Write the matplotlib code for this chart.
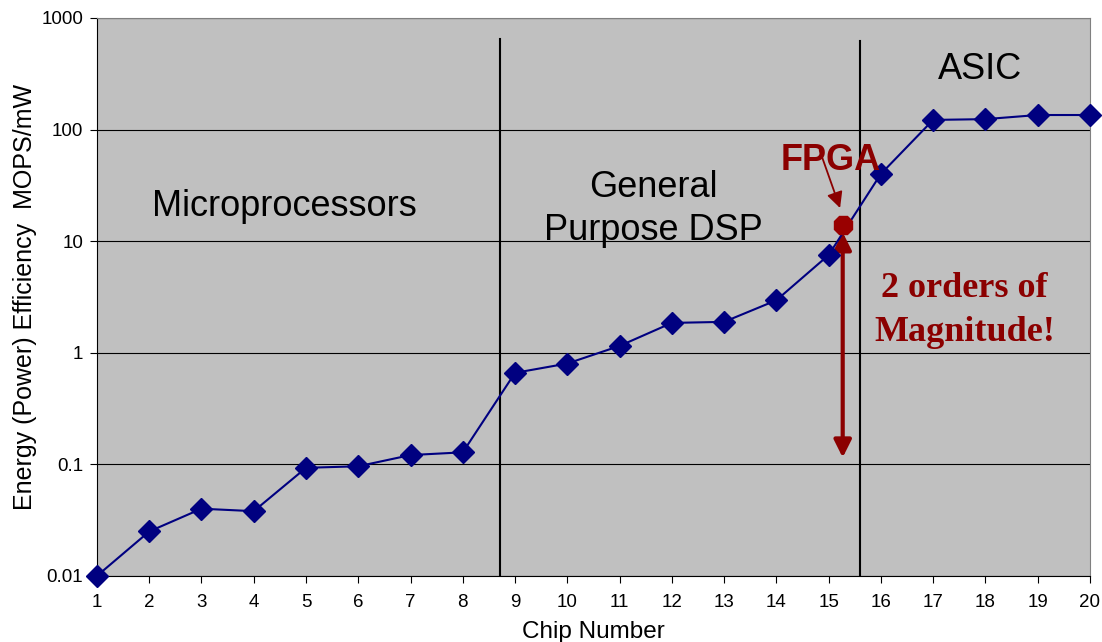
import matplotlib.pyplot as plt
import numpy as np

plt.rcParams['font.family'] = ['Liberation Sans', 'DejaVu Sans']

chips = np.arange(1, 21)
efficiency = [0.01, 0.025, 0.04, 0.038, 0.093, 0.096, 0.121, 0.128, 0.66, 0.8,
              1.15, 1.85, 1.89, 2.95, 7.5, 40, 122, 124, 135, 135]
fpga_chip = 15.27
fpga_eff = 14
boundaries = [8.71, 15.6]
y_ticks = [0.01, 0.1, 1, 10, 100, 1000]
y_tick_labels = ['0.01', '0.1', '1', '10', '100', '1000']

dark_red = '#8B0000'

fig = plt.figure(figsize=(11.02, 6.42), dpi=100)
ax = fig.add_axes([0.088, 0.103, 0.901, 0.869])
ax.set_facecolor('#c0c0c0')

ax.set_yscale('log')
ax.set_ylim(0.01, 1000)
ax.set_xlim(1, 20)
ax.set_yticks(y_ticks)
ax.set_yticklabels(y_tick_labels)
ax.yaxis.set_minor_locator(plt.NullLocator())
ax.set_xticks(chips)
ax.grid(axis='y', color='black', linewidth=0.8)
ax.set_axisbelow(True)

for s in ['top', 'right']:
    ax.spines[s].set_color('#808080')
ax.tick_params(labelsize=13.5, length=5)
ax.tick_params(axis='x', pad=8)
ax.tick_params(axis='y', pad=5)

# region separators
ax.plot([boundaries[0]] * 2, [0.01, 650], color='black', linewidth=1.5, zorder=2)
ax.plot([boundaries[1]] * 2, [0.01, 620], color='black', linewidth=1.5, zorder=2)

ax.plot(chips, efficiency, color='#000080', linewidth=1.5, marker='D',
        markersize=11, clip_on=False, zorder=4)

ax.plot([fpga_chip], [fpga_eff], marker='8', color='#990000', markersize=14,
        linestyle='none', zorder=5)

ax.text(4.58, 0.64 * 10 ** 1.5, 'Microprocessors', fontsize=26, ha='center', va='center')
ax.text(11.65, 19.3, 'General\nPurpose DSP', fontsize=26, ha='center',
        va='center', linespacing=1.28)
ax.text(17.9, 346, 'ASIC', fontsize=26, ha='center', va='center')

ax.text(15.05, 52.5, 'FPGA', fontsize=26, fontweight='bold', color=dark_red,
        ha='center', va='center', zorder=6)
ax.annotate('', xy=(15.22, 19.8), xytext=(14.83, 65),
            arrowprops=dict(arrowstyle='-|>', color=dark_red, lw=1.3,
                            mutation_scale=24, shrinkA=0, shrinkB=0), zorder=7)
ax.annotate('', xy=(fpga_chip, 0.115), xytext=(fpga_chip, 12.0),
            arrowprops=dict(arrowstyle='<|-|>', color=dark_red, lw=3,
                            mutation_scale=26, shrinkA=0, shrinkB=0))
ax.text(17.6, 2.39, '2 orders of\nMagnitude!', fontsize=26, fontweight='bold',
        color=dark_red, family='Liberation Serif', ha='center', va='center',
        linespacing=1.44)

ax.set_xlabel('Chip Number', fontsize=17.5, labelpad=7)
ax.set_ylabel('Energy (Power) Efficiency  MOPS/mW', fontsize=18, labelpad=3)

fig.savefig('out.png', dpi=100)
